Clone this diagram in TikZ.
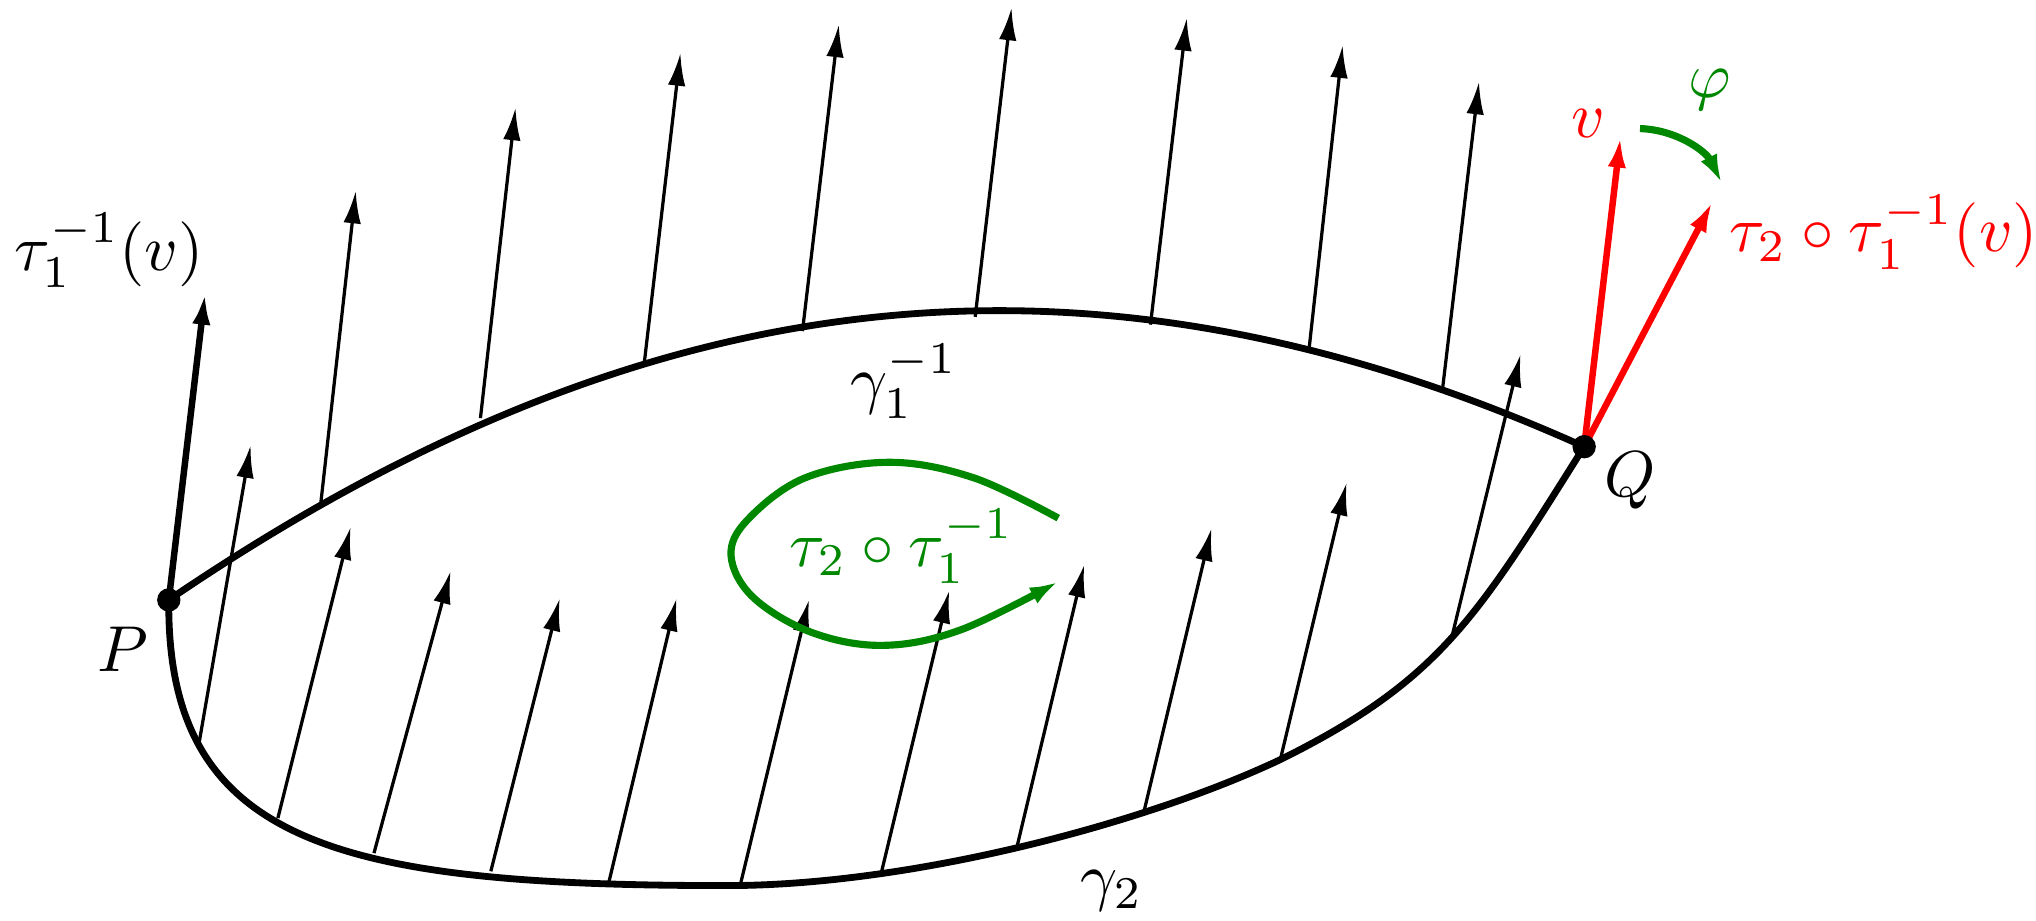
\documentclass[tikz,border=0pt]{standalone}
\usetikzlibrary{arrows.meta}
\definecolor{dgreen}{RGB}{0,135,0}
\begin{document}
\begin{tikzpicture}[x=0.2pt,y=-0.2pt,
  curve/.style={line width=1.05pt, line join=round},
  vec/.style={line width=0.5pt, -{Latex[length=5pt,width=2.7pt]}},
  bigvec/.style={line width=1pt, -{Latex[length=5pt,width=2.8pt]}},
  redvec/.style={red, line width=1pt, -{Latex[length=4.8pt,width=2.8pt]}},
  grn/.style={dgreen, line width=1.1pt, -{Latex[length=4.4pt,width=2.8pt]}},
  lbl/.style={inner sep=0pt, anchor=base west},
  dot/.style={circle, fill=black, inner sep=0pt, minimum size=3.6pt}]
\useasboundingbox (0,0) rectangle (1568,709);
\coordinate (P) at (130,462);
\coordinate (Q) at (1220,344);
% curves
\draw[curve] (P) .. controls (480,224) and (820,164) .. (Q);
\draw[curve] (P) .. controls (128,650) and (260,682) .. (560,682)
                 .. controls (700,682) and (880,635) .. (986,585)
                 .. controls (1109,524) and (1137,476) .. (Q);
% upper vectors
\foreach \a/\b/\c/\d [count=\i] in {247/388/274/147, 370/322/397/83, 496/281/524/41, 618/255/646/19, 751/244/779/6, 886/250/914/14, 1008/270/1034/35, 1111/299/1139/63}{
  \coordinate (ua\i) at (\a,\b); \coordinate (ub\i) at (\c,\d);
  \draw[vec] (ua\i) -- (ub\i);
}
% lower vectors
\foreach \a/\b/\c/\d [count=\i] in {153/574/193/343, 214/630/270/406, 288/657/347/440, 378/671/431/461, 469/679/521/461, 570/682/623/462, 679/671/731/455, 783/653/835/435, 881/625/933/407, 986/585/1037/372, 1118/491/1171/273}{
  \coordinate (la\i) at (\a,\b); \coordinate (lb\i) at (\c,\d);
  \draw[vec] (la\i) -- (lb\i);
}
% vector at P
\coordinate (Pt) at (158,225);
\draw[bigvec] (P) -- (Pt);
% red vectors at Q
\coordinate (vt) at (1248,105);
\coordinate (wt) at (1319,155);
\draw[redvec] (Q) -- (vt);
\draw[redvec] (Q) -- (wt);
% phi arc
\coordinate (f1) at (1263,99);
\coordinate (f2) at (1326,141);
\draw[grn] (f1) .. controls (1292,100) and (1314,117) .. (f2);
% green loop
\draw[grn] plot[smooth, tension=0.6] coordinates {(815,399) (750,368) (685,356) (620,368) (576,400) (563,428) (580,460) (625,487) (680,497) (740,485) (815,448)};
% dots
\node[dot] (Pd) at (P) {};
\node[dot] (Qd) at (Q) {};
% labels
\node[lbl] (lt1) at (10,208) {$\tau_1^{-1}(v)$};
\node[lbl, red] (lw) at (1331,194) {$\tau_2\circ\tau_1^{-1}(v)$};
\node[lbl, red] (lv) at (1209,106) {$v$};
\node[lbl, dgreen] (lphi) at (1299,75) {$\varphi$};
\node[lbl] (lQ) at (1235,382) {$Q$};
\node[lbl] (lP) at (74,517) {$P$};
\node[lbl] (lg1) at (654,309) {$\gamma_1^{-1}$};
\node[lbl] (lg2) at (831,692) {$\gamma_2$};
\node[lbl, dgreen] (lt21) at (607,436) {$\tau_2\circ\tau_1^{-1}$};
\end{tikzpicture}
\end{document}
